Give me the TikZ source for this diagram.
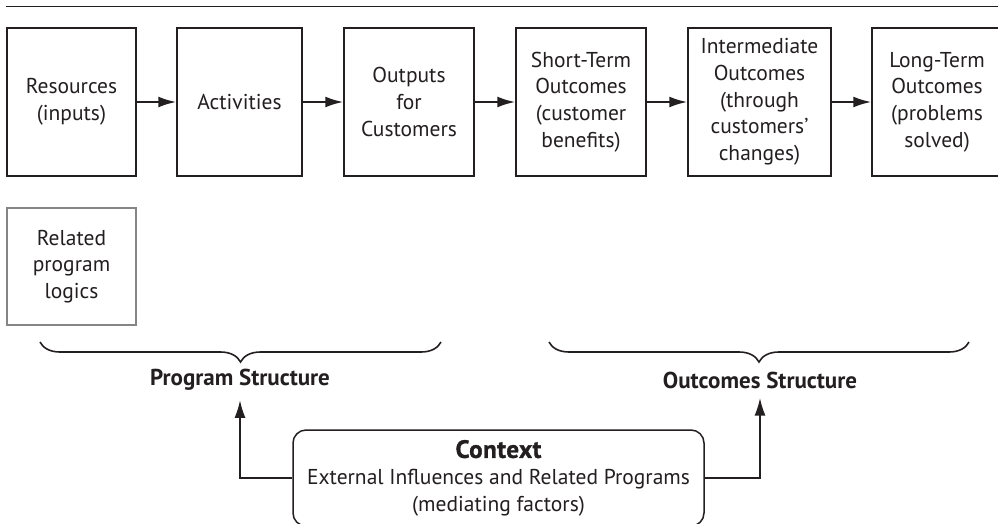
\documentclass[tikz,border=0pt]{standalone}
\usepackage{fontspec}
\setmainfont{PT Sans}
\usetikzlibrary{arrows.meta,decorations.pathreplacing}
\definecolor{ink}{HTML}{231F20}
\definecolor{graybox}{HTML}{858585}
\tikzset{
  box/.style={draw=ink, line width=1.5pt, minimum height=148pt, align=center, inner sep=2pt,
    font=\fontsize{21.5}{26.7}\selectfont, text=ink},
  arr/.style={draw=ink, line width=2.2pt, -{Latex[length=18pt,width=11pt]}},
  brc/.style={draw=ink, line width=1.6pt, decorate, decoration={brace, mirror, amplitude=20pt}},
  lbl/.style={font=\fontsize{23}{26}\selectfont\bfseries, text=ink, inner sep=0pt}
}
\begin{document}
\begin{tikzpicture}[x=1pt,y=-1pt]
\clip (0,0) rectangle (998,523);
\fill[white] (0,0) rectangle (998,523);
\draw[ink, line width=1.5pt] (6,6.5) -- (1000,6.5);

\node[box, minimum width=129pt] (b1) at (71.5,102) {Resources\\(inputs)};
\node[box, minimum width=125pt] (b2) at (239.5,102) {Activities};
\node[box, minimum width=130pt] (b3) at (409,102) {Outputs\\for\\Customers};
\node[box, minimum width=130pt] (b4) at (581,102) {Short-Term\\Outcomes\\(customer\\benefits)};
\node[box, minimum width=143pt] (b5) at (759.5,102) {Intermediate\\Outcomes\\(through\\customers’\\changes)};
\node[box, minimum width=130pt] (b6) at (937,102) {Long-Term\\Outcomes\\(problems\\solved)};

\draw[arr] (b1) -- (b2);
\draw[arr] (b2) -- (b3);
\draw[arr] (b3) -- (b4);
\draw[arr] (b4) -- (b5);
\draw[arr] (b5) -- (b6);

\node[box, draw=graybox, minimum width=129pt, minimum height=117pt] (rel) at (71.5,266.5) {Related\\program\\logics};

\draw[brc] (40,342) -- (441,342);
\draw[brc] (549,342) -- (969,342);

\node[lbl] (ps) at (240,380) {Program Structure};
\node[lbl] (os) at (760,380) {Outcomes Structure};

\node[draw=ink, line width=1.5pt, rounded corners=13pt, minimum width=411pt, minimum height=96pt,
  align=center, text=ink, font=\fontsize{21.5}{26.7}\selectfont, inner sep=0pt] (ctx) at (498.5,478)
  {{\fontsize{25}{26.7}\selectfont\bfseries\addfontfeature{FakeBold=1.2,LetterSpace=2}Context}\\External Influences and Related Programs\\(mediating factors)};

\draw[arr] (ctx.west) -| ([yshift=-9pt]ps.south);
\draw[arr] (ctx.east) -| ([yshift=-9pt]os.south);
\end{tikzpicture}
\end{document}
